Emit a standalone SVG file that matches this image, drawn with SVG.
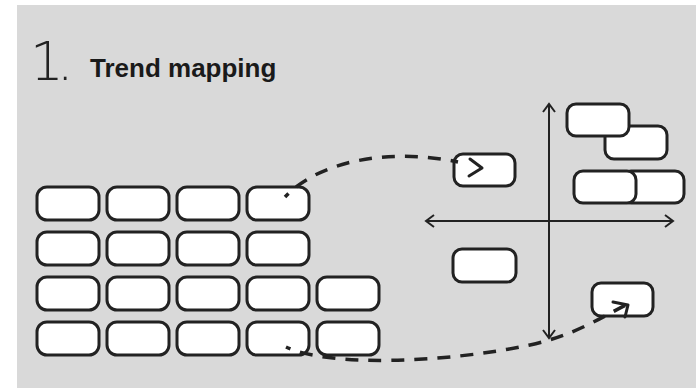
<svg xmlns="http://www.w3.org/2000/svg" width="696" height="388" viewBox="0 0 696 388">
<style>
.box{fill:#fff;stroke:#222;stroke-width:3}
.axis{fill:none;stroke:#222;stroke-width:2}
.dash{fill:none;stroke:#222;stroke-width:3.5;stroke-dasharray:13 10;stroke-dashoffset:8}
.head{fill:none;stroke:#222;stroke-width:3;stroke-linecap:round;stroke-linejoin:round}
</style>
<rect x="0" y="0" width="696" height="388" fill="#fff"/>
<rect x="17" y="5" width="679" height="383" fill="#d9d9d9"/>
<g id="title">
<text x="30" y="80" font-family="DejaVu Sans, sans-serif" font-weight="200" font-size="53" letter-spacing="-7" fill="#222">1.</text>
<text x="90" y="77" font-family="Liberation Sans, Arial, sans-serif" font-weight="bold" font-size="26" fill="#1a1a1a">Trend mapping</text>
</g>
<g id="grid">
<rect class="box" x="37" y="187" width="62" height="33" rx="10"/>
<rect class="box" x="107" y="187" width="62" height="33" rx="10"/>
<rect class="box" x="177" y="187" width="62" height="33" rx="10"/>
<rect class="box" x="247" y="187" width="62" height="33" rx="10"/>
<rect class="box" x="37" y="232" width="62" height="33" rx="10"/>
<rect class="box" x="107" y="232" width="62" height="33" rx="10"/>
<rect class="box" x="177" y="232" width="62" height="33" rx="10"/>
<rect class="box" x="247" y="232" width="62" height="33" rx="10"/>
<rect class="box" x="37" y="277" width="62" height="33" rx="10"/>
<rect class="box" x="107" y="277" width="62" height="33" rx="10"/>
<rect class="box" x="177" y="277" width="62" height="33" rx="10"/>
<rect class="box" x="247" y="277" width="62" height="33" rx="10"/>
<rect class="box" x="317" y="277" width="62" height="33" rx="10"/>
<rect class="box" x="37" y="322" width="62" height="33" rx="10"/>
<rect class="box" x="107" y="322" width="62" height="33" rx="10"/>
<rect class="box" x="177" y="322" width="62" height="33" rx="10"/>
<rect class="box" x="247" y="322" width="62" height="33" rx="10"/>
<rect class="box" x="317" y="322" width="62" height="33" rx="10"/>
</g>
<g id="axes">
<path class="axis" d="M549,104 V338 M543,112 L549,104 L555,112 M543,330 L549,338 L555,330"/>
<path class="axis" d="M426,221 H673 M434,215 L426,221 L434,227 M665,215 L673,221 L665,227"/>
</g>
<g id="box-a"><rect class="box" x="454" y="154" width="61" height="32" rx="9"/></g>
<g id="box-f"><rect class="box" x="453" y="249" width="63" height="33" rx="9"/></g>
<g id="box-c"><rect class="box" x="605" y="126" width="62" height="33" rx="9"/></g>
<g id="box-b"><rect class="box" x="567" y="104" width="62" height="32" rx="9"/></g>
<g id="box-e"><rect class="box" x="622" y="171" width="62" height="32" rx="9"/></g>
<g id="box-d"><rect class="box" x="574" y="171" width="62" height="32" rx="9"/></g>
<g id="box-g"><rect class="box" x="592" y="283" width="61" height="33" rx="9"/></g>
<g id="connectors">
<path class="dash" d="M285,197 C320,160 390,148 458,162"/>
<path class="head" d="M470,159 L482,168 L469,176"/>
<path class="dash" d="M286,347 C330,368 450,362 530,345 C575,335 600,318 626,305"/>
<path class="head" d="M613,302 L628,305 L625,317"/>
</g>
</svg>
